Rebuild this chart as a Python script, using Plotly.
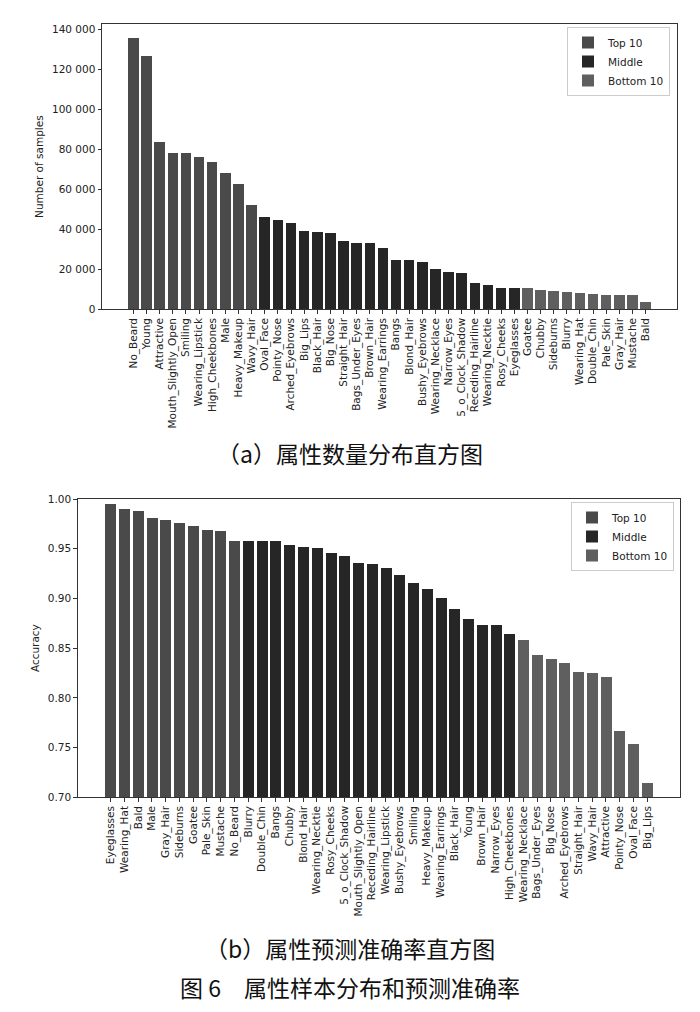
import plotly.graph_objects as go

# ---------------- data ----------------
count_labels = ["No_Beard", "Young", "Attractive", "Mouth_Slightly_Open", "Smiling",
                "Wearing_Lipstick", "High_Cheekbones", "Male", "Heavy_Makeup", "Wavy_Hair",
                "Oval_Face", "Pointy_Nose", "Arched_Eyebrows", "Big_Lips", "Black_Hair",
                "Big_Nose", "Straight_Hair", "Bags_Under_Eyes", "Brown_Hair", "Wearing_Earrings",
                "Bangs", "Blond_Hair", "Bushy_Eyebrows", "Wearing_Necklace", "Narrow_Eyes",
                "5_o_Clock_Shadow", "Receding_Hairline", "Wearing_Necktie", "Rosy_Cheeks", "Eyeglasses",
                "Goatee", "Chubby", "Sideburns", "Blurry", "Wearing_Hat",
                "Double_Chin", "Pale_Skin", "Gray_Hair", "Mustache", "Bald"]
count_values = [135600, 126700, 83500, 78300, 78000,
                76300, 73500, 68100, 62500, 52000,
                46000, 44800, 43300, 39300, 38800,
                38300, 34100, 33300, 33100, 30500,
                24800, 24500, 23500, 20000, 18800,
                18300, 13150, 12000, 10650, 10600,
                10500, 9500, 9300, 8500, 8300,
                7800, 7150, 7100, 7000, 3800]
count_yticks = [0, 20000, 40000, 60000, 80000, 100000, 120000, 140000]
count_yticktext = ["0", "20 000", "40 000", "60 000", "80 000", "100 000", "120 000", "140 000"]

acc_labels = ["Eyeglasses", "Wearing_Hat", "Bald", "Male", "Gray_Hair",
              "Sideburns", "Goatee", "Pale_Skin", "Mustache", "No_Beard",
              "Blurry", "Double_Chin", "Bangs", "Chubby", "Blond_Hair",
              "Wearing_Necktie", "Rosy_Cheeks", "5_o_Clock_Shadow", "Mouth_Slightly_Open", "Receding_Hairline",
              "Wearing_Lipstick", "Bushy_Eyebrows", "Smiling", "Heavy_Makeup", "Wearing_Earrings",
              "Black_Hair", "Young", "Brown_Hair", "Narrow_Eyes", "High_Cheekbones",
              "Wearing_Necklace", "Bags_Under_Eyes", "Big_Nose", "Arched_Eyebrows", "Straight_Hair",
              "Wavy_Hair", "Attractive", "Pointy_Nose", "Oval_Face", "Big_Lips"]
acc_values = [0.995, 0.990, 0.988, 0.981, 0.979,
              0.976, 0.973, 0.969, 0.968, 0.958,
              0.958, 0.958, 0.958, 0.954, 0.952,
              0.951, 0.946, 0.943, 0.936, 0.935,
              0.931, 0.924, 0.916, 0.909, 0.900,
              0.889, 0.879, 0.873, 0.873, 0.864,
              0.858, 0.843, 0.839, 0.835, 0.826,
              0.825, 0.821, 0.767, 0.754, 0.714]
acc_yticks = [0.70, 0.75, 0.80, 0.85, 0.90, 0.95, 1.00]
acc_yticktext = ["0.70", "0.75", "0.80", "0.85", "0.90", "0.95", "1.00"]

group_names = ["Top 10", "Middle", "Bottom 10"]
group_slices = [(0, 10), (10, 30), (30, 40)]
group_colors = ["#4a4a4a", "#262626", "#5f5f5f"]

caption_a = "（a）属性数量分布直方图"
caption_b = "（b）属性预测准确率直方图"
caption_fig = "图 6　属性样本分布和预测准确率"

# ---------------- figure ----------------
W, H = 700, 1012
fig = go.Figure()

positions = list(range(len(count_labels)))

for name, (a, b), col in zip(group_names, group_slices, group_colors):
    fig.add_trace(go.Bar(x=positions[a:b], y=count_values[a:b], name=name,
                         marker=dict(color=col, line=dict(width=0)), width=0.8,
                         xaxis="x", yaxis="y", legend="legend"))
for name, (a, b), col in zip(group_names, group_slices, group_colors):
    fig.add_trace(go.Bar(x=positions[a:b], y=acc_values[a:b], name=name,
                         marker=dict(color=col, line=dict(width=0)), width=0.8,
                         xaxis="x2", yaxis="y2", legend="legend2"))

def px_x(p):
    return p / W

def px_y(p):
    return 1 - p / H

tick_font = dict(family="DejaVu Sans", size=10.5, color="#222")
axis_common = dict(showline=True, linecolor="#333", linewidth=1, mirror=True,
                   showgrid=False, zeroline=False, ticks="outside", ticklen=3.5,
                   tickcolor="#333", tickfont=tick_font, automargin=False)
xr = [-2.39, len(count_labels) - 1 + 2.39]
legend_font = dict(family="DejaVu Sans", size=10.5, color="#222")

fig.update_layout(
    width=W, height=H,
    margin=dict(l=0, r=0, t=0, b=0, autoexpand=False),
    paper_bgcolor="white", plot_bgcolor="white",
    bargap=0, barmode="overlay",
    xaxis=dict(domain=[px_x(102), px_x(677)], anchor="y", range=xr,
               tickmode="array", tickvals=positions, ticktext=count_labels,
               tickangle=-90, **axis_common),
    yaxis=dict(domain=[px_y(309.3), px_y(24)], anchor="x", range=[0, 142650],
               tickmode="array", tickvals=count_yticks, ticktext=count_yticktext,
               title=dict(text="Number of samples", standoff=6,
                          font=dict(family="DejaVu Sans", size=10.5, color="#222")),
               **axis_common),
    xaxis2=dict(domain=[px_x(77.7), px_x(680)], anchor="y2", range=xr,
                tickmode="array", tickvals=positions, ticktext=acc_labels,
                tickangle=-90, **axis_common),
    yaxis2=dict(domain=[px_y(797.3), px_y(499)], anchor="x2", range=[0.70, 1.00],
                tickmode="array", tickvals=acc_yticks, ticktext=acc_yticktext,
                title=dict(text="Accuracy", standoff=6,
                           font=dict(family="DejaVu Sans", size=10.5, color="#222")),
                **axis_common),
    legend=dict(x=px_x(670), y=px_y(27), xanchor="right", yanchor="top",
                bgcolor="rgba(255,255,255,0.9)", bordercolor="#cccccc", borderwidth=1,
                font=legend_font, itemwidth=30, tracegroupgap=0),
    legend2=dict(x=px_x(674), y=px_y(502), xanchor="right", yanchor="top",
                 bgcolor="rgba(255,255,255,0.9)", bordercolor="#cccccc", borderwidth=1,
                 font=legend_font, itemwidth=30, tracegroupgap=0),
    showlegend=True,
)

cap_font = dict(family="Noto Sans CJK SC", size=23, color="#111")
fig.add_annotation(text=caption_a, x=0.5, y=px_y(453), xref="paper", yref="paper",
                   showarrow=False, font=cap_font, xanchor="center", yanchor="middle")
fig.add_annotation(text=caption_b, x=0.5, y=px_y(948), xref="paper", yref="paper",
                   showarrow=False, font=cap_font, xanchor="center", yanchor="middle")
fig.add_annotation(text=caption_fig, x=0.5, y=px_y(987), xref="paper", yref="paper",
                   showarrow=False, font=cap_font, xanchor="center", yanchor="middle")

fig.write_html("out.html", config={"displayModeBar": False},
               post_script="document.body.style.margin='0';document.body.style.overflow='hidden';")
